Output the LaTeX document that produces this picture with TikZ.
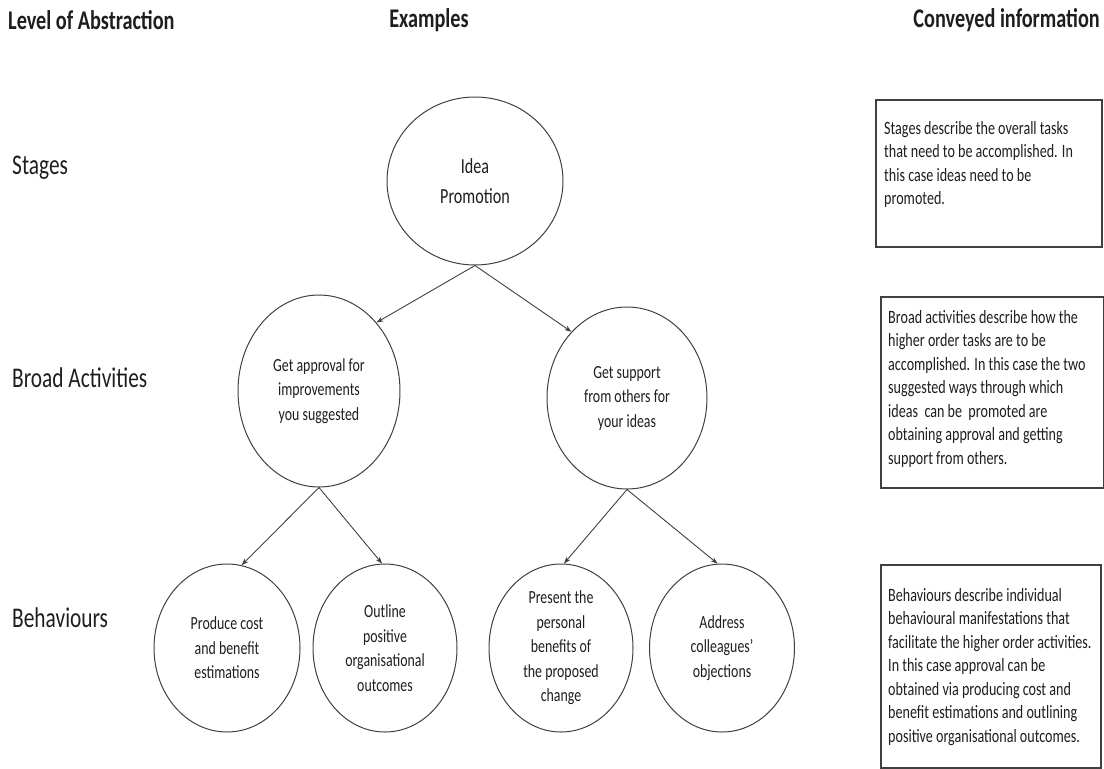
\documentclass[tikz,border=0pt]{standalone}
\usepackage{fontspec}
\setmainfont{Carlito}[FakeStretch=0.75]
\usetikzlibrary{shapes.geometric,arrows.meta}
\definecolor{ink}{HTML}{1E1E1E}
\definecolor{rule}{HTML}{404040}
\begin{document}
\begin{tikzpicture}[x=1pt,y=-1pt,
  every node/.style={text=ink},
  head/.style={font=\fontsize{27}{30}\selectfont\bfseries, inner sep=0},
  level/.style={font=\fontsize{28.5}{32}\selectfont, anchor=west, inner sep=0},
  bubble/.style={ellipse, draw=rule, line width=1pt, inner sep=0, align=center,
                 font=\fontsize{18.5}{24.5}\selectfont},
  infobox/.style={draw=rule, line width=1.6pt, anchor=north west, inner sep=0},
  infotext/.style={anchor=north west, inner sep=0, align=left,
                   font=\fontsize{18.8}{23.5}\selectfont},
  link/.style={draw=rule, line width=0.9pt, -{Stealth[length=7pt,width=5pt]}}
]
\useasboundingbox (0,0) rectangle (1104,769);

% column headings
\node[head, anchor=west] (hlevel) at (8,20) {Level of Abstraction};
\node[head] (hex) at (429,20) {Examples};
\node[head, anchor=east] (hinfo) at (1100,20) {Conveyed information};

% abstraction levels
\node[level] (lstage) at (12,168) {Stages};
\node[level] (lbroad) at (12,378) {Broad Activities};
\node[level] (lbeh) at (12,618) {Behaviours};

% example hierarchy
\node[bubble, minimum width=176pt, minimum height=168pt,
      font=\fontsize{21.5}{30}\selectfont] (idea) at (475,181) {Idea\\Promotion};
\node[bubble, minimum width=162pt, minimum height=192pt] (appr) at (319,391)
  {Get approval for\\improvements\\you suggested};
\node[bubble, minimum width=160pt, minimum height=182pt] (supp) at (627,398)
  {Get support\\from others for\\your ideas};
\node[bubble, minimum width=146pt, minimum height=168pt] (prod) at (227,648)
  {Produce cost\\and benefit\\estimations};
\node[bubble, minimum width=144pt, minimum height=168pt] (outl) at (385,648)
  {Outline\\positive\\organisational\\outcomes};
\node[bubble, minimum width=144pt, minimum height=168pt] (pres) at (561,648)
  {Present the\\personal\\benefits of\\the proposed\\change};
\node[bubble, minimum width=145pt, minimum height=168pt] (addr) at (722,648)
  {Address\\colleagues'\\objections};

\draw[link] (idea.south) -- (appr.50);
\draw[link] (idea.south) -- (supp.130);
\draw[link] (appr.south) -- (prod.80);
\draw[link] (appr.south) -- (outl.92);
\draw[link] (supp.south) -- (pres.88);
\draw[link] (supp.south) -- (addr.93);

% explanations
\node[infobox, minimum width=226pt, minimum height=147pt] (box1) at (875,99) {};
\node[infotext] (txt1) at ([xshift=9pt,yshift=-22pt]box1.north west)
  {Stages describe the overall tasks\\that need to be accomplished. In\\this case ideas need to be\\promoted.};

\node[infobox, minimum width=223pt, minimum height=191pt] (box2) at (880,296) {};
\node[infotext] (txt2) at ([xshift=8pt,yshift=-14pt]box2.north west)
  {Broad activities describe how the\\higher order tasks are to be\\accomplished. In this case the two\\suggested ways through which\\ideas\ \ can be\ \ promoted are\\obtaining approval and getting\\support from others.};

\node[infobox, minimum width=220pt, minimum height=203pt] (box3) at (880,564) {};
\node[infotext] (txt3) at ([xshift=8pt,yshift=-24pt]box3.north west)
  {Behaviours describe individual\\behavioural manifestations that\\facilitate the higher order activities.\\In this case approval can be\\obtained via producing cost and\\benefit estimations and outlining\\positive organisational outcomes.};
\end{tikzpicture}
\end{document}
